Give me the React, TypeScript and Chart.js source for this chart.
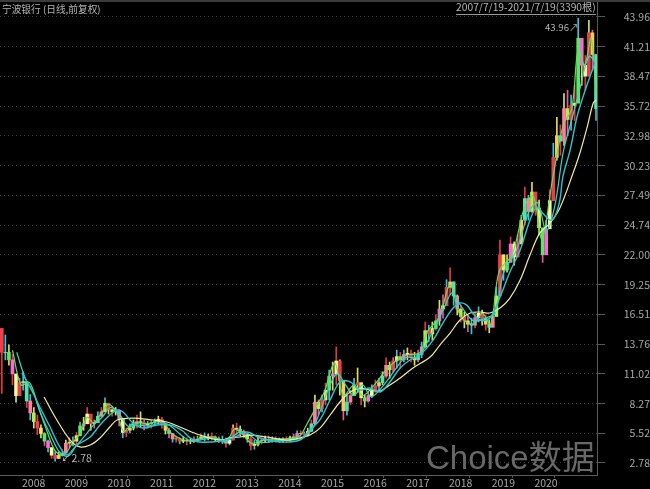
import React, { useEffect, useRef } from "react";
import { Chart, registerables } from "chart.js";

Chart.register(...registerables);

const firstYear = 2007.55;
const highs = [15.2,14.6,13.7,12.8,10.9,10.6,11.2,10,9.1,7.9,7.2,6.3,5.6,4.9,4.2,3.8,3.8,4,4.9,5.1,5.2,5.6,6.55,7,7.9,7.1,6.75,7.5,7.9,8.8,8.15,8,7.9,7.7,
  6.3,6,6.4,6.75,7.2,7.5,6.75,6.65,6.75,6.85,7.1,7,6.3,6,5.45,5.27,5.1,5.2,5.1,5,5.2,5.27,5.45,5.55,5.45,5.55,5.27,5.2,5.27,5.1,5.2,6.3,6.45,6.2,5.83,5.45,5.27,4.9,5.2,5.1,5.27,5.27,5.2,5.2,5.1,5.1,5.2,5.27,5.45,5.75,5.75,5.65,6,6.75,9.05,8.6,9.05,10.15,11.36,12.1,13.5,12.3,10,9.05,9.5,10.6,11.55,10,9.05,9.3,10,10.44,10.6,11.2,12.5,12.1,12.5,13.2,13,13.2,13.4,13.2,13,13.2,13.95,15.8,15.5,15.8,16.45,17.8,18.3,19.7,20.8,19.5,18.3,17.35,16.7,16.45,16.15,16.7,17.2,16.9,16.45,16,16.7,19,23.35,22,22,23.65,23.2,23.85,25.65,28.25,27.5,28.7,27.5,27.05,23.85,25.2,28,32.3,34.7,34,36.9,37.2,36.75,37.65,43.85,41.8,40.4,43.65,42.75,40];
const lows = [9.2,12.3,11.8,10,8.4,9.1,9.5,7.9,6.75,6,5.4,5.1,4.4,3.8,3.2,2.95,3.2,3.4,3.8,4.2,4.35,4.55,5.27,5.8,6.4,5.8,6,6.55,7,7.65,7.3,7.1,7.2,6.2,
  5.1,5.2,5.55,5.83,6,6.1,5.83,6,6,6.2,6.4,6,5.45,5.1,4.7,4.7,4.55,4.65,4.45,4.55,4.65,4.7,4.9,4.8,4.9,4.9,4.8,4.65,4.55,4.25,4.45,4.9,5.35,5.27,5.1,4.7,3.98,4.05,4.35,4.55,4.7,4.65,4.7,4.7,4.7,4.7,4.7,4.8,4.9,5.2,5.2,5.1,5.27,5.65,6.75,7.2,7.5,8.15,8.6,9.5,10,9.05,6.75,7.2,8.15,9.05,9.3,8.15,7.95,8.4,8.8,9.3,9.5,10,10.6,10.6,11.2,11.55,11.55,12.1,12.3,12.1,11.8,12.1,12.5,13.4,13.95,14.1,15.05,15.5,16.15,17.8,18.3,17.35,16.45,15.8,15.25,14.9,14.7,15.25,15.8,15.5,15.05,14.8,15.5,16.45,18.75,19.65,20.4,21.3,21.05,22,23.35,24.75,25.2,25.95,25.65,23.85,21.3,22.9,24.75,27.5,30.75,31.2,32.1,33.05,33.5,34.4,38.6,37.65,37.2,39.05,39.05,34.4];
const closes = [13,13,12.3,11,9,10.2,10.3,8.5,7.4,6.6,6,5.5,4.8,4.2,3.5,3.2,3.5,3.7,4.6,4.7,4.8,5.3,6.2,6.4,7.3,6.4,6.5,7.1,7.5,8.3,7.7,7.5,7.6,6.8,
  5.6,5.8,6,6.4,6.6,6.5,6.3,6.4,6.5,6.6,6.8,6.4,5.8,5.5,5,5,4.8,4.9,4.8,4.8,4.9,5,5.2,5.1,5.2,5.2,5,4.9,4.9,4.6,4.9,6,5.9,5.7,5.4,5,4.4,4.5,4.8,4.9,5,5,5,4.95,4.9,4.9,5,5.1,5.2,5.5,5.5,5.4,5.7,6.4,8.4,7.8,8.6,9.5,10.8,11,12.2,10.4,7.6,8.4,9,10,10.2,8.8,8.5,9,9.4,9.9,10.2,10.8,11.8,11.4,12.2,12.6,12.3,12.8,12.9,12.5,12.3,12.8,13.5,15,14.7,15.2,15.9,17,17.3,19,19.5,18.2,17,16.3,15.9,15.6,15.5,16.2,16.6,16.1,15.6,15.3,16.3,18.2,22,20.6,21.3,23,21.8,23,25.2,27.2,26,27.8,26.3,24.5,22,24.4,27,31,33,32.5,35.5,34.5,35.8,36,42,39.5,38.5,42.5,40.5,35.5];

const longYears = [2008.54,2008.84,2009.15,2009.38,2009.62,2009.85,2010.08,2010.25,2010.62,2011.09,2011.42,2011.72,2012.19,2012.66,2012.89,2013.13,2013.36,2013.76,2014.23,2014.53,2014.77,2015,2015.24,2015.47,2015.71,2015.94,2016.17,2016.41,2016.64,2016.88,2017.18,2017.58,2017.81,2018.05,2018.28,2018.52,2018.75,2018.98,2019.22,2019.45,2019.69,2019.92,2020.15,2020.39,2020.62,2020.93,2021.09,2021.26,2021.4,2021.47];
const longLine = [8.87,6.75,4.9,4.26,4.44,5.09,6.1,6.75,6.93,6.75,6.56,6.1,5.36,4.9,5.09,5.18,5.36,5.18,4.9,5.09,5.36,6,7.21,8.41,9.33,9.7,9.52,9.43,9.98,10.63,11.55,12.56,13.67,14.78,15.98,16.63,16.72,16.63,17.09,18,19.67,21.98,24.01,24.93,26.32,29.55,31.4,33.8,36,36.3];

const midYears = [2008.02,2008.21,2008.44,2008.68,2008.91,2009.08,2009.31,2009.62,2009.85,2010.08,2010.25,2010.39,2010.62,2010.86,2011.18,2011.49,2011.79,2011.96,2012.19,2012.66,2013.01,2013.29,2013.6,2014.07,2014.53,2014.77,2015,2015.24,2015.47,2015.71,2015.94,2016.17,2016.41,2016.64,2016.88,2017.11,2017.34,2017.65,2017.88,2018.12,2018.28,2018.44,2018.56,2018.75,2018.98,2019.22,2019.45,2019.69,2019.92,2020.08,2020.22,2020.39,2020.5,2020.62,2020.69,2020.86,2021.02,2021.16,2021.32,2021.44];
const midLine = [11.09,9.8,7.95,6.1,4.26,3.52,4.44,5.18,6.29,7.21,7.67,7.49,6.47,6.01,6.29,6.29,5.73,5.09,4.72,4.81,5.18,5.64,5.09,4.72,4.9,5.83,6.75,8.6,10.26,10.26,9.52,9.7,9.33,10.26,11.55,12.29,12.75,14.13,15.7,17.09,17.55,17.36,16.72,15.98,16.16,18.1,20.41,22.44,25.2,26.4,25.85,25.2,25.5,27.05,29.2,31.67,34.72,36.56,38.41,39.7];

const tealYears = [2007.9,2008.1,2008.3,2008.5,2008.7,2008.9,2009.1,2009.3,2009.5,2009.7,2009.9,2010.1,2010.3,2010.5,2010.7,2011,2011.3,2011.5,2011.8,2012,2012.5,2012.8,2013.1,2013.3,2013.6,2014,2014.5,2014.8,2015,2015.2,2015.4,2015.6,2015.8,2016,2016.2,2016.5,2016.8,2017,2017.3,2017.6,2017.9,2018.1,2018.3,2018.6,2018.9,2019.1,2019.3,2019.6,2019.9,2020.1,2020.3,2020.5,2020.7,2020.9,2021.1,2021.3,2021.47];
const tealLine = [13,10.6,9.2,7,5.3,3.8,3.4,4.4,5.3,6.3,7,7.9,7.3,6.2,6.3,6.2,6.5,6.2,5.2,4.8,5.1,4.8,5.6,5.5,4.7,4.85,5,5.8,7.5,9.6,11,10,9,10,8.9,10,11.6,12.5,12.6,14.6,17,18.5,17.3,15.9,16.2,16.6,20.3,22.4,26,26.8,24.2,26.5,31.5,34.5,37.5,40.3,39.8];

const greenYears = [2007.8,2008,2008.2,2008.4,2008.6,2008.8,2009,2009.2,2009.4,2009.55,2009.7,2009.9,2010.05,2010.25,2010.4,2010.6,2010.75,2011,2011.3,2011.5,2011.8,2012,2012.5,2012.8,2013,2013.2,2013.4,2013.7,2014,2014.5,2014.7,2015,2015.1,2015.35,2015.55,2015.8,2016,2016.3,2016.6,2017,2017.35,2017.5,2017.8,2018.05,2018.3,2018.6,2018.8,2019,2019.2,2019.5,2019.8,2020,2020.2,2020.45,2020.7,2020.9,2021.05,2021.2,2021.35,2021.47];
const greenLine = [13.2,10,10.2,8,5.8,3.9,3.5,4.6,5.6,7,6.5,7.5,8.2,7.4,5.7,6.4,6.5,6.4,6.7,5.6,4.9,4.85,5.2,4.7,5.9,5.4,4.6,4.9,5,5.2,6.4,8.6,9.3,12,9,10,9,10.1,11.6,12.7,13,14.8,16.3,19.2,16.3,15.6,16.6,15.6,20.5,22,26.5,27.4,23.5,29,34,35.5,41,39.5,42,37];

const yTicks = [2.78,5.52,8.27,11.02,13.76,16.51,19.25,22,24.74,27.49,30.23,32.98,35.72,38.47,41.21,43.96];
const xTicks = [2008,2009,2010,2011,2012,2013,2014,2015,2016,2017,2018,2019,2020,2021];
const yearLabels = ["2008","2009","2010","2011","2012","2013","2014","2015","2016","2017","2018","2019","2020",""];

const bodyColors = ["#ef3f4f","#f6e65a","#5fe36a","#f06fd0","#fff6a0","#e8404a","#f8c95a","#58e0b0","#ff7fa0","#b8ea50"];
const wickColors = ["#e23a45","#35c8d8","#e8d850","#e23a45","#c8e860","#e85a9a","#35c8d8"];
const FONT = '"Noto Sans CJK SC", "Noto Sans", sans-serif';

const pair = (xs: number[], ys: number[]) => xs.map((x, i) => ({ x, y: ys[i] }));

const label = (style: React.CSSProperties, text: string) => (
  <div style={{ position: "absolute", whiteSpace: "nowrap", fontFamily: FONT, color: "#b4b4b4", fontSize: 10.5, lineHeight: "14px", ...style }}>{text}</div>
);

export default function App() {
  const ref = useRef<HTMLCanvasElement>(null);
  useEffect(() => {
    document.body.style.margin = "0";
    document.body.style.background = "#000";
    const line = (xs: number[], ys: number[], color: string, width: number, order: number) => ({
      type: "line" as const,
      data: pair(xs, ys),
      borderColor: color,
      borderWidth: width,
      pointRadius: 0,
      tension: 0.35,
      order,
    });
    const chart = new Chart(ref.current!, {
      type: "bar",
      data: {
        datasets: [
          {
            type: "bar" as const,
            data: highs.map((h, i) => ({ x: firstYear + i / 12, y: [lows[i], h] })),
            backgroundColor: highs.map((_, i) => wickColors[i % wickColors.length]),
            barThickness: 1,
            grouped: false,
            order: 4,
          } as any,
          line(greenYears, greenLine, "#62e05c", 1.2, 2),
          {
            type: "bar" as const,
            data: closes.map((c, i) => ({ x: firstYear + i / 12, y: [i ? closes[i - 1] : highs[i], c] })),
            backgroundColor: closes.map((_, i) => bodyColors[i % bodyColors.length]),
            barThickness: 3,
            grouped: false,
            order: 3,
          } as any,
          line(tealYears, tealLine, "#33d8c4", 1.2, 1),
          line(midYears, midLine, "#2cc3d2", 1.4, 0),
          line(longYears, longLine, "#f2ec9e", 1.2, 0),
        ],
      },
      options: {
        responsive: false,
        animation: false,
        devicePixelRatio: 1,
        events: [],
        layout: { padding: { top: 4, bottom: 0, left: 0, right: 0 } },
        plugins: { legend: { display: false }, tooltip: { enabled: false } },
        scales: {
          x: {
            type: "linear",
            offset: false,
            min: 2007.508,
            max: 2021.49,
            afterBuildTicks: (s: any) => { s.ticks = xTicks.map((value) => ({ value })); },
            afterFit: (s: any) => { s.height = 14; s.paddingLeft = 0; s.paddingRight = 0; },
            grid: { drawOnChartArea: false, drawTicks: true, tickLength: 3, color: "#555" },
            border: { color: "#5a5a5a" },
            ticks: {
              autoSkip: false,
              maxRotation: 0,
              align: "start",
              labelOffset: 1,
              padding: -1,
              color: "#a8a8a8",
              font: { family: FONT, size: 10.5 },
              callback: (v: any) => yearLabels[xTicks.indexOf(v)],
            },
          },
          y: {
            position: "right",
            min: 1.67,
            max: 45.16,
            afterBuildTicks: (s: any) => { s.ticks = yTicks.map((value) => ({ value })); },
            afterFit: (s: any) => { s.width = 53; s.paddingTop = 0; s.paddingBottom = 0; },
            grid: { color: "rgba(110,110,110,0.55)", tickLength: 8, tickColor: "#555", lineWidth: 1, borderDash: [1, 3] } as any,
            border: { color: "#5a5a5a", dash: [1, 3] } as any,
            ticks: {
              autoSkip: false,
              padding: 17,
              crossAlign: "far",
              color: "#a8a8a8",
              font: { family: FONT, size: 10.5 },
              callback: (v: any) => Number(v).toFixed(2),
            },
          },
        },
      } as any,
    });
    return () => chart.destroy();
  }, []);
  return (
    <div style={{ position: "relative", width: 650, height: 489, background: "#000", overflow: "hidden" }}>
      <canvas ref={ref} width={650} height={489} style={{ position: "absolute", left: 0, top: 0, width: 650, height: 489 }} />
      <div style={{ position: "absolute", left: 0, top: 0, width: 650, height: 2, background: "#3c3c3c" }} />
      <div style={{ position: "absolute", left: 597, top: 2, width: 1, height: 474, background: "#5a5a5a" }} />
      {label({ left: 2, top: 2, fontSize: 9.7 }, "宁波银行 (日线,前复权)")}
      {label({ left: 456, top: 0, fontSize: 10.3, borderBottom: "1px solid #999" }, "2007/7/19-2021/7/19(3390根)")}
      {label({ left: 545, top: 20, fontSize: 9.6 }, "43.96↗")}
      {label({ left: 61, top: 451 }, "↙2.78")}
      <div style={{ position: "absolute", left: 426, top: 436, fontFamily: '"Liberation Sans", "Noto Sans CJK SC", sans-serif', fontSize: 33, lineHeight: "44px", color: "#686868", whiteSpace: "nowrap" }}>Choice数据</div>
    </div>
  );
}
